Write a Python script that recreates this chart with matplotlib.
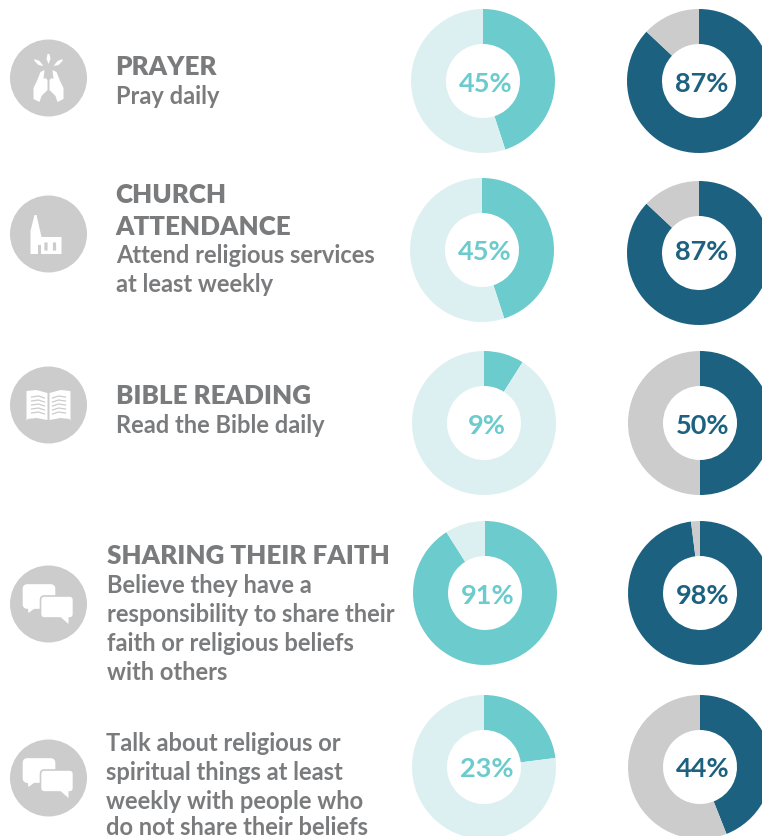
import matplotlib
matplotlib.use("Agg")
import matplotlib.pyplot as plt
from matplotlib.patches import Circle, Polygon, FancyBboxPatch, Rectangle

W, H = 762, 837

# Percent values for the two donut columns
left_values = [45, 45, 9, 91, 23]
right_values = [87, 87, 50, 98, 44]

# Text rows
headings = ["PRAYER", "CHURCH", "ATTENDANCE", "BIBLE READING", "SHARING THEIR FAITH"]
heading_pos = [(115.5, 75), (115.5, 203), (115.5, 235), (115.5, 404), (106.5, 564)]
body_lines = ["Pray daily", "Attend religious services", "at least weekly",
              "Read the Bible daily", "Believe they have a",
              "responsibility to share their", "faith or religious beliefs",
              "with others", "Talk about religious or", "spiritual things at least",
              "weekly with people who", "do not share their beliefs"]
body_pos = [(116, 104), (116, 263), (116, 292), (116, 433), (107, 593), (107, 622),
            (107, 651), (107, 680), (106, 751), (106, 780), (106, 809), (106, 835.5)]

left_centers = [(483, 82), (482, 251), (484, 424), (485, 594), (484, 768)]
right_centers = [(699, 82), (699, 254), (700, 424), (700, 594), (700, 768)]
label_rows = [82, 250, 424, 594, 767]
icon_centers = [(48.5, 79), (48.5, 235), (48.5, 406), (48.5, 605), (48.5, 779)]

TEAL = "#6ccbcd"
TEAL_LIGHT = "#ddf0f1"
BLUE = "#1d6180"
GRAY = "#cccccc"
TEXT = "#7a7b7d"

plt.rcParams["font.family"] = ["Lato", "DejaVu Sans"]

fig = plt.figure(figsize=(W / 100, H / 100), dpi=100)
ax = fig.add_axes([0, 0, 1, 1])


def py(y):
    # picture rows run downward, the axes upward
    return H - y


def donut(center, row, value, color, rest):
    ax.pie([value, 100 - value], colors=[color, rest], startangle=90, counterclock=False,
           center=(center[0], py(center[1])), radius=72,
           wedgeprops=dict(width=35, linewidth=0))
    ax.text(center[0] + 3, py(row + 10), f"{value}%", color=color, fontsize=19.5,
            fontweight="bold", ha="center", va="baseline")


def shape(cx, cy, pts):
    ax.add_patch(Polygon([(cx + x, py(cy + y)) for x, y in pts], closed=True,
                         fc="white", ec="none", zorder=3))


def praying_hands(cx, cy):
    # rays
    shape(cx, cy, [(-1, -24), (1, -24), (2, -19), (0, -14), (-2, -19)])
    shape(cx, cy, [(-14, -19), (-9, -17), (-5, -12), (-10, -13), (-14, -17)])
    shape(cx, cy, [(14, -19), (9, -17), (5, -12), (10, -13), (14, -17)])
    # hands
    shape(cx, cy, [(-4, -8), (-8, -6), (-12, 4), (-15, 10), (-15, 21), (-9, 24), (-7, 18),
                   (-1, 12), (-1, 2), (-3, 0), (-5, 1)])
    shape(cx, cy, [(4, -8), (8, -6), (12, 4), (15, 10), (15, 21), (9, 24), (7, 18),
                   (1, 12), (1, 2), (3, 0), (5, 1)])


def church(cx, cy):
    shape(cx, cy, [(-18, 20), (-18, -3), (-14, -19), (-12, -19), (-7, 3), (13, 3), (13, 20)])
    for dx in (-2.5, 6):
        ax.add_patch(FancyBboxPatch((cx + dx - 1, py(cy + 16)), 2, 7,
                                    boxstyle="round,pad=0.6", fc=GRAY, ec="none", zorder=4))
    ax.add_patch(Rectangle((cx - 11, py(cy + 21)), 3, 10, fc=GRAY, ec="none", zorder=4))


def book(cx, cy):
    shape(cx, cy, [(-22, -14), (-12, -15), (-1, -12), (-1, 15), (-12, 13), (-21, 14), (-22, 16)])
    shape(cx, cy, [(22, -14), (12, -15), (1, -12), (1, 15), (12, 13), (21, 14), (22, 16)])
    for row in (-8, -4, 0, 4, 8):
        ax.plot([cx - 17, cx - 10, cx - 4], [py(cy + row), py(cy + row - 1), py(cy + row + 1)],
                color=GRAY, lw=0.9, zorder=4)
        ax.plot([cx + 4, cx + 10, cx + 17], [py(cy + row + 1), py(cy + row - 1), py(cy + row)],
                color=GRAY, lw=0.9, zorder=4)


def bubble(x0, y0, w, h, tail, edge):
    ax.add_patch(FancyBboxPatch((x0 + 3, py(y0 + h) + 3), w - 6, h - 6,
                                boxstyle="round,pad=3,rounding_size=4",
                                fc="white", ec=edge, lw=1.2, zorder=3))
    ax.add_patch(Polygon([(x, py(y)) for x, y in tail], closed=True, fc="white", ec="none", zorder=3))


def chat(cx, cy):
    bubble(cx - 25, cy - 19, 31, 23, [(cx - 21, cy + 3), (cx - 20, cy + 9), (cx - 12, cy + 3)], "white")
    bubble(cx - 8, cy - 8, 33, 22, [(cx + 12, cy + 13), (cx + 20, cy + 20), (cx + 20, cy + 13)], GRAY)


for c, r, v in zip(left_centers, label_rows, left_values):
    donut(c, r, v, TEAL, TEAL_LIGHT)
for c, r, v in zip(right_centers, label_rows, right_values):
    donut(c, r, v, BLUE, GRAY)

for c in icon_centers:
    ax.add_patch(Circle((c[0], py(c[1])), 38.5, fc=GRAY, ec="none", zorder=2))
praying_hands(*icon_centers[0])
church(*icon_centers[1])
book(*icon_centers[2])
chat(*icon_centers[3])
chat(*icon_centers[4])

for s, (x, y) in zip(headings, heading_pos):
    ax.text(x, py(y), s, color=TEXT, fontsize=18.7, fontweight=800, va="baseline")
for s, (x, y) in zip(body_lines, body_pos):
    ax.text(x, py(y), s, color=TEXT, fontsize=17, fontweight=700, va="baseline")

ax.set_xlim(0, W)
ax.set_ylim(0, H)
ax.set_aspect("equal")
ax.axis("off")

fig.savefig("out.png", dpi=100, facecolor="white")
